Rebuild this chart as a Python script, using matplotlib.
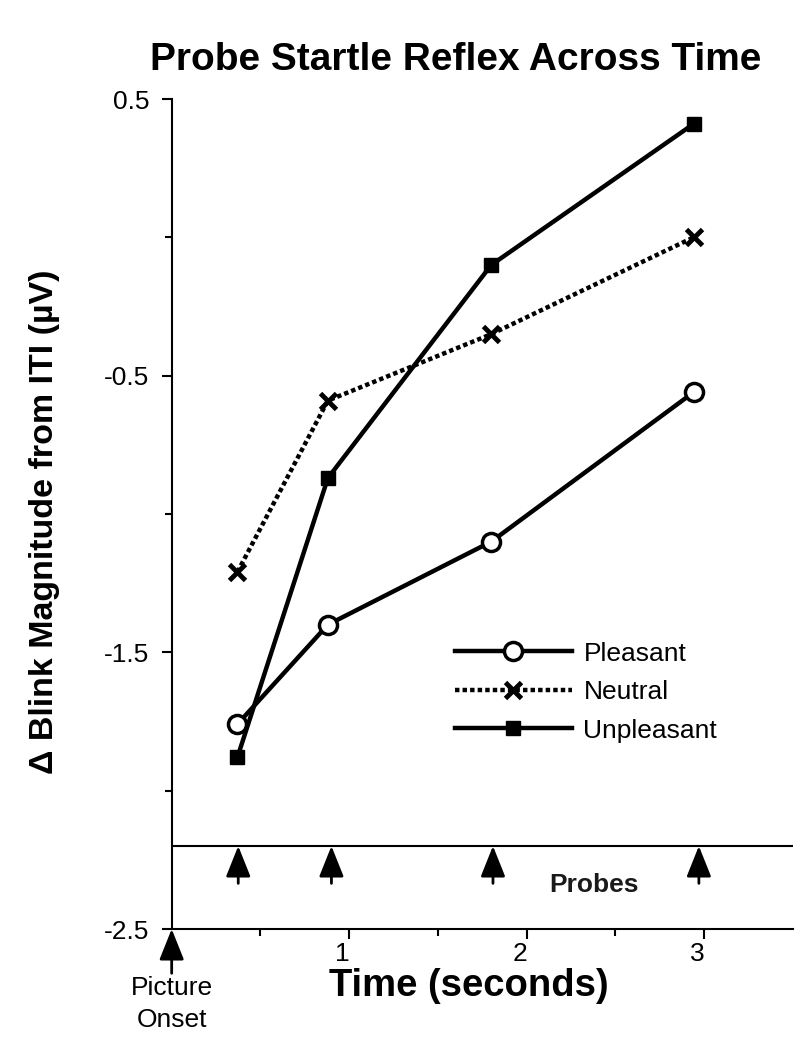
import matplotlib
matplotlib.use("Agg")
import matplotlib.pyplot as plt
from matplotlib.transforms import ScaledTranslation

plt.rcParams['font.family'] = ['Liberation Sans', 'DejaVu Sans']
plt.rcParams['axes.unicode_minus'] = False

# ---- data ----
times = [0.37, 0.88, 1.80, 2.94]
pleasant = [-1.76, -1.40, -1.10, -0.56]
neutral = [-1.21, -0.59, -0.35, 0.00]
unpleasant = [-1.88, -0.87, -0.10, 0.41]
probe_times = [0.375, 0.90, 1.81, 2.97]
probe_level = -2.2
yticks = [0.5, -0.5, -1.5, -2.5]
ytick_labels = ["0.5", "-0.5", "-1.5", "-2.5"]
yminor = [0.0, -1.0, -2.0]
xticks = [1, 2, 3]
xtick_labels = ["1", "2", "3"]
xminor = [0.5, 1.5, 2.5]

fig = plt.figure(figsize=(8, 10.38), dpi=100)
ax = fig.add_axes([0.2146, 0.105, 0.7766, 0.7996])
ax.set_xlim(0, 3.5)
ax.set_ylim(-2.5, 0.5)

ax.plot(times, pleasant, color='black', lw=3.2, marker='o', ms=13,
        mfc='white', mec='black', mew=2.5, label='Pleasant', zorder=3)
ax.plot(times, neutral, color='black', lw=3.2, ls=(0, (1, 0.7)), marker='x',
        ms=11, mew=3.5, label='Neutral', zorder=3)
ax.plot(times, unpleasant, color='black', lw=3.2, marker='s', ms=10,
        mfc='black', mec='black', label='Unpleasant', zorder=3)

ax.axhline(probe_level, color='black', lw=1.5)

astyle = '-|>,head_length=0.95,head_width=0.38'
for t in probe_times:
    ax.annotate('', xy=(t, probe_level), xytext=(t, probe_level - 0.135),
                arrowprops=dict(arrowstyle=astyle, mutation_scale=20, lw=2,
                                color='black', shrinkA=0, shrinkB=0))
ax.annotate('', xy=(0, -2.5), xytext=(0, -2.66), annotation_clip=False,
            arrowprops=dict(arrowstyle=astyle, mutation_scale=20, lw=2,
                            color='black', shrinkA=0, shrinkB=0))

for s in ['top', 'right']:
    ax.spines[s].set_visible(False)
for s in ['left', 'bottom']:
    ax.spines[s].set_linewidth(1.5)

ax.set_yticks(yticks)
ax.set_yticklabels(ytick_labels)
ax.set_yticks(yminor, minor=True)
ax.set_xticks(xticks)
ax.set_xticklabels(xtick_labels)
ax.set_xticks(xminor, minor=True)
ax.tick_params(axis='both', which='major', direction='out', length=7.2,
               width=1.5, labelsize=19)
ax.tick_params(axis='both', which='minor', direction='out', length=5,
               width=1.5)
ax.tick_params(axis='y', which='major', pad=9)
ax.tick_params(axis='x', which='major', pad=2)
for lbl in ax.get_xticklabels():
    lbl.set_transform(lbl.get_transform() +
                      ScaledTranslation(-7 / 100, 0, fig.dpi_scale_trans))

leg = ax.legend(loc='upper left', bbox_to_anchor=(0.439, 0.359), frameon=False,
                fontsize=19, handlelength=4.43, handletextpad=0.44,
                labelspacing=0.55, numpoints=1, borderaxespad=0)

fig.text(594 / 800, 1 - 885 / 1038, 'Probes', fontsize=19, fontweight='bold',
         ha='center', va='center', color='#1a1a1a')

fig.text(456 / 800, 1 - 60 / 1038, 'Probe Startle Reflex Across Time',
         fontsize=28, fontweight='bold', ha='center', va='center')
fig.text(45 / 800, 1 - 522 / 1038, '\u0394 Blink Magnitude from ITI (\u00b5V)',
         fontsize=24.5, fontweight='bold', ha='center', va='center', rotation=90)
fig.text(469 / 800, 1 - 986 / 1038, 'Time (seconds)', fontsize=27.5,
         fontweight='bold', ha='center', va='center')
fig.text(172 / 800, 1 - 1004 / 1038, 'Picture\nOnset', fontsize=19,
         ha='center', va='center', linespacing=1.4)

fig.savefig('out.png', dpi=100, facecolor='white')
